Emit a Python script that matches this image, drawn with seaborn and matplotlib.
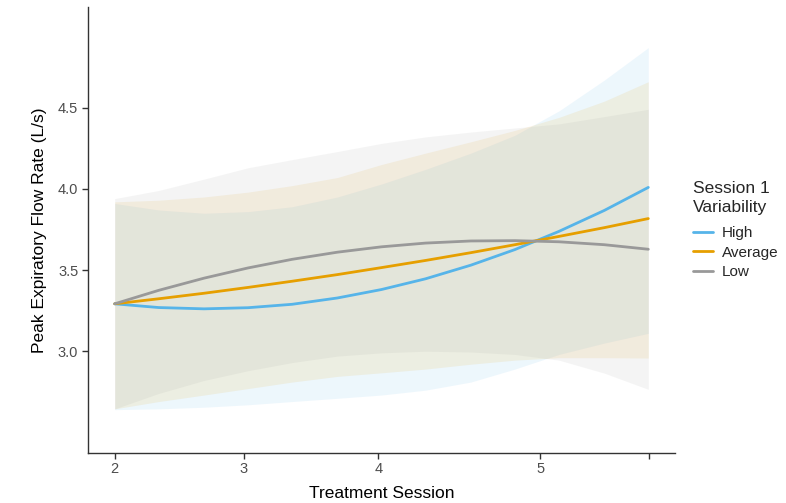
import matplotlib
matplotlib.use("Agg")
import matplotlib.pyplot as plt
import seaborn as sns
import pandas as pd

# x positions (axis units), tick positions and labels
session = [2.0, 2.33, 2.67, 3.0, 3.33, 3.67, 4.0, 4.33, 4.67, 5.0, 5.33, 5.67, 6.0]
tick_pos = [2.0, 2.968, 3.976, 5.19, 6.005]
tick_labels = ["2", "3", "4", "5", ""]

# fitted lines
high = [3.292, 3.269, 3.261, 3.268, 3.289, 3.328, 3.380, 3.446, 3.530, 3.626, 3.738, 3.867, 4.009]
average = [3.292, 3.323, 3.357, 3.393, 3.431, 3.472, 3.515, 3.559, 3.607, 3.656, 3.707, 3.761, 3.817]
low = [3.292, 3.375, 3.450, 3.513, 3.566, 3.610, 3.643, 3.666, 3.679, 3.681, 3.674, 3.656, 3.628]

# confidence ribbons
high_lo = [2.64, 2.645, 2.655, 2.67, 2.69, 2.71, 2.73, 2.76, 2.81, 2.89, 2.98, 3.05, 3.11]
high_hi = [3.91, 3.87, 3.85, 3.86, 3.89, 3.95, 4.03, 4.12, 4.22, 4.33, 4.48, 4.67, 4.87]
avg_lo = [2.645, 2.69, 2.73, 2.77, 2.81, 2.845, 2.867, 2.89, 2.92, 2.945, 2.96, 2.96, 2.958]
avg_hi = [3.92, 3.93, 3.95, 3.98, 4.02, 4.07, 4.15, 4.22, 4.29, 4.36, 4.44, 4.54, 4.66]
low_lo = [2.645, 2.74, 2.82, 2.88, 2.93, 2.97, 2.99, 3.0, 2.995, 2.98, 2.945, 2.865, 2.765]
low_hi = [3.94, 3.99, 4.06, 4.13, 4.18, 4.23, 4.28, 4.32, 4.35, 4.375, 4.40, 4.445, 4.49]

groups = ["High", "Average", "Low"]
colors = {"High": "#56B4E9", "Average": "#E69F00", "Low": "#999999"}

df = pd.concat([
    pd.DataFrame({"session": session, "rate": high, "group": "High"}),
    pd.DataFrame({"session": session, "rate": average, "group": "Average"}),
    pd.DataFrame({"session": session, "rate": low, "group": "Low"}),
])

sns.set_style("white")
plt.rcParams["font.family"] = ["Liberation Sans", "DejaVu Sans"]

fig = plt.figure(figsize=(7.86, 5.03), dpi=100)
ax = fig.add_axes([88 / 786, 1 - 452.7 / 503, 587 / 786, 445.7 / 503])

bands = {"High": (high_lo, high_hi), "Average": (avg_lo, avg_hi), "Low": (low_lo, low_hi)}
for g in groups:
    lo, hi = bands[g]
    ax.fill_between(session, lo, hi, color=colors[g], alpha=0.1, linewidth=0, zorder=1)

sns.lineplot(data=df, x="session", y="rate", hue="group", hue_order=groups,
             palette=colors, linewidth=2.0, errorbar=None, ax=ax, zorder=3)

ax.set_xlim(1.8, 6.2)
ax.set_ylim(2.375, 5.12)
ax.set_xticks(tick_pos)
ax.set_xticklabels(tick_labels)
ax.set_yticks([3.0, 3.5, 4.0, 4.5])
ax.set_yticklabels(["3.0", "3.5", "4.0", "4.5"])

for s in ["top", "right"]:
    ax.spines[s].set_visible(False)
for s in ["left", "bottom"]:
    ax.spines[s].set_color("#333333")
    ax.spines[s].set_linewidth(1.0)
ax.tick_params(axis="both", which="major", length=4, width=1.0, color="#333333",
               labelsize=10.5, labelcolor="#4D4D4D", pad=3, bottom=True, left=True)

ax.set_xlabel("Treatment Session", fontsize=12.5, color="black", labelpad=7)
ax.set_ylabel("Peak Expiratory Flow Rate (L/s)", fontsize=12.5, color="black", labelpad=8)

handles, labels = ax.get_legend_handles_labels()
leg = ax.legend(handles, labels, title="Session 1\nVariability", frameon=False,
                loc="upper left", bbox_to_anchor=(687 / 786, 1 - 175 / 503),
                bbox_transform=fig.transFigure, fontsize=11, title_fontsize=12.5,
                handlelength=1.3, handletextpad=0.6, labelspacing=0.35,
                borderaxespad=0, alignment="left")
leg.get_title().set_linespacing(1.35)
leg._legend_box.sep = 8
for line in leg.get_lines():
    line.set_linewidth(2.0)

fig.savefig("out.png", dpi=100)
